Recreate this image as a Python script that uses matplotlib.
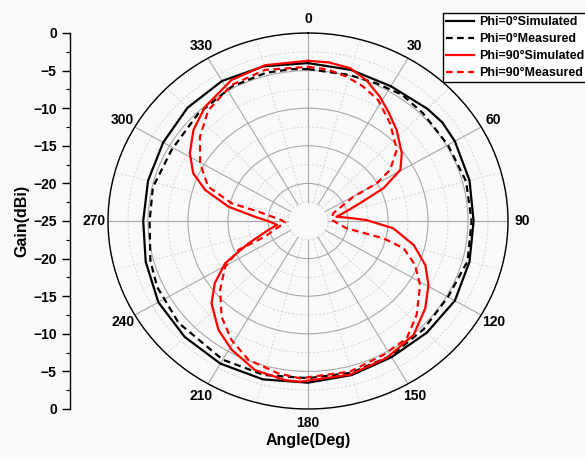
import numpy as np
import matplotlib
matplotlib.use('Agg')
import matplotlib.pyplot as plt

plt.rcParams['font.family'] = ['Liberation Sans', 'DejaVu Sans']
plt.rcParams['font.weight'] = 'bold'

# Phi=0 simulado / medido (angulo em graus, ganho em dBi)
ang_phi0_sim = [0, 15, 30, 45, 52, 60, 75, 90, 105, 120, 135, 150, 165, 180,
                195, 210, 225, 240, 255, 270, 285, 300, 315, 330, 345, 360]
gan_phi0_sim = [-4.0, -4.2, -4.3, -3.9, -3.7, -3.8, -4.1, -4.3, -4.1, -3.8, -4.0, -4.1, -3.8, -3.5,
                -3.2, -3.1, -3.2, -3.4, -4.0, -4.4, -4.3, -4.1, -3.7, -3.5, -3.7, -4.0]

ang_phi0_med = [0, 15, 25, 35, 45, 60, 75, 90, 105, 120, 135, 150, 165, 180,
                195, 210, 230, 245, 255, 270, 283, 299, 316, 332, 345, 354, 360]
gan_phi0_med = [-4.8, -4.9, -4.8, -4.5, -4.7, -4.8, -4.55, -4.55, -4.35, -4.8, -4.6, -4.3, -4.1, -4.1,
                -3.8, -3.7, -3.9, -4.2, -4.6, -5.2, -5.1, -5.5, -5.2, -4.75, -4.6, -4.7, -4.8]

# Phi=90 simulado / medido
ang_phi90_sim = [0, 7, 14.5, 21.3, 28.6, 35, 42.5, 52.4, 59.5, 65.2, 70, 76, 81, 85, 89, 95.2, 103.6,
                 111.8, 119.5, 128.4, 139, 151.7, 165.6, 182.7, 187.7, 198.5, 209.1, 217.7, 227.7,
                 234.6, 241.5, 248.2, 256, 262.4, 269, 275, 280.8, 287.8, 293.9, 301.4, 310.2,
                 319.7, 333, 345.5, 360]
gan_phi90_sim = [-3.7, -3.75, -4.0, -4.9, -6.2, -7.4, -8.6, -10.2, -11.6, -14.6, -18.1, -20.3, -21.4, -20.0,
                 -17.7, -14.3, -11.4, -9.2, -7.7, -6.3, -4.9, -4.3, -3.9, -3.6, -3.65, -4.1, -5.4, -6.7,
                 -8.7, -10.7, -13.2, -17.0, -19.8, -21.1, -20.2, -18.3, -14.9, -11.5, -9.3, -7.7, -6.25,
                 -5.1, -3.95, -3.6, -3.7]

ang_phi90_med = [0, 7, 14.1, 21.2, 28.7, 38.3, 49.5, 56.5, 59.8, 60.4, 72, 87.6, 101.4, 103.7, 106.9,
                 113.6, 121.3, 132.6, 141.7, 152.1, 165.3, 182.7, 190.4, 202, 211.1, 220.3,
                 230.2, 239.6, 246.1, 248.9, 266, 272, 281.3, 283.8, 290.1, 299.6, 309.7,
                 319.8, 332.1, 345, 360]
gan_phi90_med = [-4.5, -4.7, -5.2, -5.85, -6.7, -8.45, -10.4, -12.7, -15.1, -18.5, -21.7, -22.0, -20.1,
                 -15.3, -12.5, -10.4, -8.6, -6.55, -5.1, -4.85, -4.3, -4.05, -4.4, -5.1, -6.5, -8.3,
                 -10.7, -13.0, -15.5, -19.2, -22.1, -21.7, -18.7, -15.2, -11.7, -9.5, -7.45,
                 -5.7, -4.55, -4.2, -4.5]

rotulos_ang = ['0', '30', '60', '90', '120', '150', '180', '210', '240', '270', '300', '330']
rotulos_ganho = ['0', '\u22125', '\u221210', '\u221215', '\u221220', '\u221225',
                 '\u221220', '\u221215', '\u221210', '\u22125', '0']

fundo = '#f9f9f9'
fig = plt.figure(figsize=(5.85, 4.57), dpi=100, facecolor=fundo)

# Grafico polar (elipse como na figura original)
ax = fig.add_axes([108/585, 48/457, 400/585, 376/457], projection='polar')
ax.set_aspect('auto')
ax.set_facecolor(fundo)
ax.set_theta_zero_location('N')
ax.set_theta_direction(-1)
ax.set_rlim(-25, 0)

# grade
ax.xaxis.grid(False)
ax.set_rticks([-20, -15, -10, -5, 0])
ax.set_yticklabels([])
ax.yaxis.grid(True, color='#a8a8a8', linewidth=0.8, linestyle='-')
circ = np.linspace(0, 2*np.pi, 361)
for r in [-22.5, -17.5, -12.5, -7.5, -2.5]:
    ax.plot(circ, np.full_like(circ, r), color='#d4d4d4', linewidth=0.7, linestyle=(0, (2, 2)), zorder=1)
for a in range(0, 360, 30):
    ax.plot([np.radians(a)]*2, [-22.5, 0], color='#a8a8a8', linewidth=0.8, zorder=1)
for a in range(15, 360, 30):
    ax.plot([np.radians(a)]*2, [-22.5, 0], color='#d4d4d4', linewidth=0.7, linestyle=(0, (2, 2)), zorder=1)

ax.set_xticks(np.radians(np.arange(0, 360, 30)))
ax.set_xticklabels(rotulos_ang, fontsize=10, fontweight='bold')
ax.set_xticks(np.radians(np.arange(15, 360, 30)), minor=True)
ax.tick_params(axis='x', which='major', direction='in', length=7, width=1, pad=3)
ax.tick_params(axis='x', which='minor', direction='in', length=4, width=0.8)
ax.spines['polar'].set_linewidth(1.0)

# curvas
ax.plot(np.radians(ang_phi0_sim), gan_phi0_sim, color='black', linewidth=1.6, label='Phi=0°Simulated', zorder=3)
ax.plot(np.radians(ang_phi0_med), gan_phi0_med, color='black', linewidth=1.6, linestyle=(0, (3, 2)),
        label='Phi=0°Measured', zorder=3)
ax.plot(np.radians(ang_phi90_sim), gan_phi90_sim, color='red', linewidth=1.6, label='Phi=90°Simulated', zorder=3)
ax.plot(np.radians(ang_phi90_med), gan_phi90_med, color='red', linewidth=1.6, linestyle=(0, (3, 2)),
        label='Phi=90°Measured', zorder=3)

# eixo de ganho a esquerda
ax2 = fig.add_axes([70/585, 48/457, 0.01, 376/457])
ax2.set_facecolor('none')
for s in ['top', 'right', 'bottom']:
    ax2.spines[s].set_visible(False)
ax2.spines['left'].set_linewidth(1.0)
ax2.set_xticks([])
ax2.set_ylim(0, 50)
pos = np.arange(50, -1, -5)
ax2.set_yticks(pos)
ax2.set_yticklabels(rotulos_ganho, fontsize=10, fontweight='bold')
ax2.set_yticks(np.arange(2.5, 50, 5), minor=True)
ax2.tick_params(axis='y', which='major', length=6, width=1)
ax2.tick_params(axis='y', which='minor', length=3, width=0.8)

fig.text(22/585, 1 - 221/457, 'Gain(dBi)', rotation=90, ha='center', va='center',
         fontsize=11.5, fontweight='bold')
fig.text(308/585, 1 - 440/457, 'Angle(Deg)', ha='center', va='center', fontsize=11.5, fontweight='bold')

leg = fig.legend(loc='upper left', bbox_to_anchor=(443/585, 1 - 13/457), fontsize=9,
                 frameon=True, fancybox=False, edgecolor='black', facecolor='white', framealpha=1,
                 borderpad=0.25, labelspacing=0.4, handlelength=2.2, handletextpad=0.4, borderaxespad=0)
leg.get_frame().set_linewidth(1.0)
for t in leg.get_texts():
    t.set_fontweight('bold')

fig.savefig('out.png', dpi=100, facecolor=fundo)
